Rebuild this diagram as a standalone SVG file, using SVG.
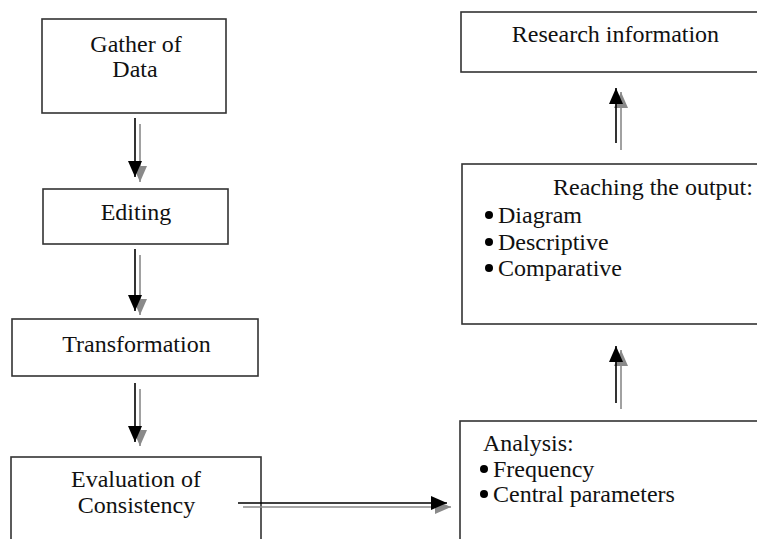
<svg xmlns="http://www.w3.org/2000/svg" width="757" height="539" viewBox="0 0 757 539" font-family="Liberation Serif, DejaVu Serif, serif" font-size="24">
<style>
.box{fill:#fff;stroke:#333;stroke-width:1.6}
text{fill:#111}
.c{text-anchor:middle}
.lb{stroke:#000;stroke-width:1.6;fill:none}
.lg{stroke:#8a8a8a;stroke-width:1.6;fill:none}
.dot{fill:#000}
</style>
<defs>
<marker id="hb" viewBox="0 0 16 14" refX="16" refY="7" markerWidth="16" markerHeight="14" markerUnits="userSpaceOnUse" orient="auto"><path d="M0,0 L16,7 L0,14 z" fill="#000"/></marker>
<marker id="hg" viewBox="0 0 16 14" refX="16" refY="7" markerWidth="16" markerHeight="14" markerUnits="userSpaceOnUse" orient="auto"><path d="M0,0 L16,7 L0,14 z" fill="#8a8a8a"/></marker>
</defs>
<rect width="757" height="539" fill="#fff"/>
<g id="gather">
<rect class="box" x="42" y="19" width="184" height="94"/>
<text class="c" x="136" y="52">Gather of</text>
<text class="c" x="135" y="77">Data</text>
</g>
<g id="editing">
<rect class="box" x="43" y="189" width="185" height="55"/>
<text class="c" x="136" y="220">Editing</text>
</g>
<g id="transformation">
<rect class="box" x="12" y="319" width="246" height="57"/>
<text class="c" x="136.5" y="352">Transformation</text>
</g>
<g id="evaluation">
<rect class="box" x="11" y="457" width="250" height="100"/>
<text class="c" x="136" y="487">Evaluation of</text>
<text class="c" x="136.5" y="513">Consistency</text>
</g>
<g id="research">
<rect class="box" x="461" y="12" width="310" height="60"/>
<text class="c" x="615.5" y="42">Research information</text>
</g>
<g id="reaching">
<rect class="box" x="462" y="164" width="310" height="160"/>
<text x="553" y="195">Reaching the output:</text>
<circle class="dot" cx="489" cy="215" r="4"/>
<text x="498" y="223">Diagram</text>
<circle class="dot" cx="489" cy="242" r="4"/>
<text x="498" y="250">Descriptive</text>
<circle class="dot" cx="489" cy="268" r="4"/>
<text x="498" y="276">Comparative</text>
</g>
<g id="analysis">
<rect class="box" x="460" y="421" width="310" height="140"/>
<text x="483" y="451">Analysis:</text>
<circle class="dot" cx="484" cy="469" r="4"/>
<text x="493" y="477">Frequency</text>
<circle class="dot" cx="484" cy="494" r="4"/>
<text x="493" y="502">Central parameters</text>
</g>
<g id="connectors">
<path class="lg" d="M140,124 V182" marker-end="url(#hg)"/>
<path class="lb" d="M135,118 V177" marker-end="url(#hb)"/>
<path class="lg" d="M140,255 V315" marker-end="url(#hg)"/>
<path class="lb" d="M135,249 V311" marker-end="url(#hb)"/>
<path class="lg" d="M140,389 V446" marker-end="url(#hg)"/>
<path class="lb" d="M135,383 V442" marker-end="url(#hb)"/>
<path class="lg" d="M243,507 H451" marker-end="url(#hg)"/>
<path class="lb" d="M238,503 H447" marker-end="url(#hb)"/>
<path class="lg" d="M621,150 V92" marker-end="url(#hg)"/>
<path class="lb" d="M616,143 V88" marker-end="url(#hb)"/>
<path class="lg" d="M621,409 V350" marker-end="url(#hg)"/>
<path class="lb" d="M616,403 V346" marker-end="url(#hb)"/>
</g>
</svg>
